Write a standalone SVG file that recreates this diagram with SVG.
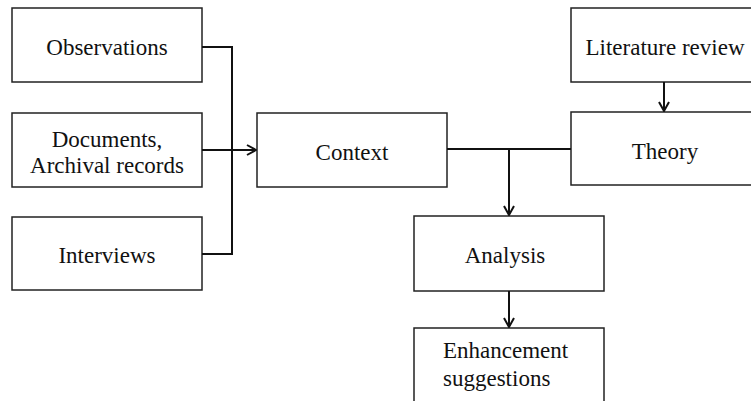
<svg xmlns="http://www.w3.org/2000/svg" width="751" height="401" viewBox="0 0 751 401">
<defs>
<marker id="arr" viewBox="0 0 12 12" refX="11" refY="6" markerWidth="12" markerHeight="12" markerUnits="userSpaceOnUse" orient="auto">
<path d="M2,1 L11,6 L2,11" fill="none" stroke="#111" stroke-width="2"/>
</marker>
<style>
.box{fill:#fff;stroke:#222;stroke-width:1.5}
.lbl{font-family:"Liberation Serif","Times New Roman",serif;font-size:23px;fill:#111;text-anchor:middle}
.ln{fill:none;stroke:#111;stroke-width:2}
</style>
</defs>
<rect width="751" height="401" fill="#fff"/>
<g id="observations"><rect class="box" x="12" y="8" width="190" height="74"/><text class="lbl" x="107" y="55">Observations</text></g>
<g id="documents"><rect class="box" x="12" y="113" width="190" height="74"/><text class="lbl" x="107" y="147">Documents,</text><text class="lbl" x="107" y="173">Archival records</text></g>
<g id="interviews"><rect class="box" x="12" y="217" width="190" height="73"/><text class="lbl" x="107" y="263">Interviews</text></g>
<g id="context"><rect class="box" x="257" y="113" width="190" height="74"/><text class="lbl" x="352" y="160">Context</text></g>
<g id="literature"><rect class="box" x="571" y="8" width="190" height="74"/><text class="lbl" x="665" y="55">Literature review</text></g>
<g id="theory"><rect class="box" x="571" y="112" width="190" height="73"/><text class="lbl" x="665" y="159">Theory</text></g>
<g id="analysis"><rect class="box" x="414" y="216" width="190" height="75"/><text class="lbl" x="505" y="263">Analysis</text></g>
<g id="enhancement"><rect class="box" x="414" y="328" width="190" height="80"/><text class="lbl" x="443" y="358" style="text-anchor:start">Enhancement</text><text class="lbl" x="443" y="386" style="text-anchor:start">suggestions</text></g>
<g id="connectors">
<path class="ln" d="M202,47 H232 V254 H202"/>
<path class="ln" d="M202,150 H256" marker-end="url(#arr)"/>
<path class="ln" d="M447,149 H571"/>
<path class="ln" d="M509,149 V215" marker-end="url(#arr)"/>
<path class="ln" d="M509,291 V327" marker-end="url(#arr)"/>
<path class="ln" d="M664,82 V111" marker-end="url(#arr)"/>
</g>
</svg>
